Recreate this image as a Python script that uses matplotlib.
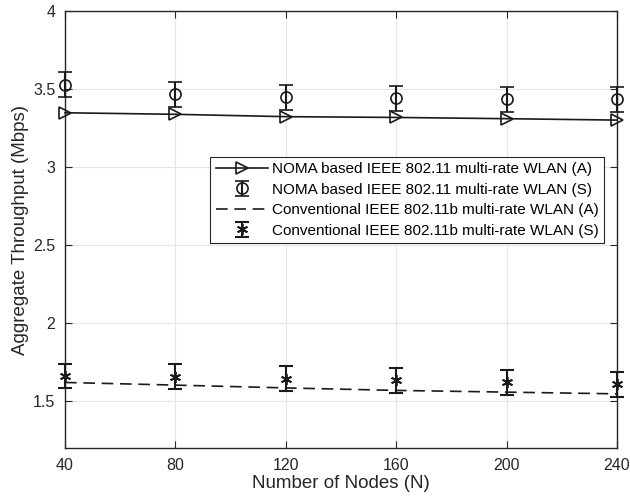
import numpy as np
import matplotlib.pyplot as plt
from matplotlib.lines import Line2D

plt.rcParams['font.family'] = ['Liberation Sans', 'DejaVu Sans']

# data
nodes = [40, 80, 120, 160, 200, 240]

noma_a = [3.348, 3.338, 3.323, 3.318, 3.310, 3.301]
noma_s = [3.527, 3.467, 3.447, 3.440, 3.436, 3.435]
noma_s_err = [0.080, 0.080, 0.081, 0.081, 0.080, 0.081]

conv_a = [1.620, 1.603, 1.585, 1.569, 1.558, 1.547]
conv_s = [1.661, 1.658, 1.645, 1.634, 1.621, 1.609]
conv_s_err = [0.076, 0.079, 0.081, 0.080, 0.080, 0.080]

labels = ['NOMA based IEEE 802.11 multi-rate WLAN (A)',
          'NOMA based IEEE 802.11 multi-rate WLAN (S)',
          'Conventional IEEE 802.11b multi-rate WLAN (A)',
          'Conventional IEEE 802.11b multi-rate WLAN (S)']

fig = plt.figure(figsize=(6.3, 5.03), dpi=100)
ax = fig.add_axes([65/630, 1 - 448/503, 552/630, 437/503])

k = '#1a1a1a'
h0, = ax.plot(nodes, noma_a, '-', color=k, lw=1.2, marker='>', ms=8,
              mfc='none', mew=1.2, zorder=3, clip_on=False)
h1 = ax.errorbar(nodes, noma_s, yerr=noma_s_err, fmt='o', color=k, ms=8,
                 mfc='none', mew=1.2, elinewidth=1.5, capsize=5, capthick=1.5,
                 zorder=3)
h2, = ax.plot(nodes, conv_a, '--', color=k, lw=1.2, dashes=(7, 4), zorder=3)
h3 = ax.errorbar(nodes, conv_s, yerr=conv_s_err, fmt='none', color=k,
                 elinewidth=1.5, capsize=5, capthick=1.5, zorder=3)
ax.plot(nodes, conv_s, ls='none', marker=(6, 2, 0), ms=8, mew=1.3,
        color=k, zorder=4, clip_on=False)
for cont in (h1, h3):
    for art in cont.get_children():
        art.set_clip_on(False)

ax.set_xlim(40, 240)
ax.set_ylim(1.2, 4)
ax.set_xticks(nodes)
ax.set_yticks([1.5, 2, 2.5, 3, 3.5, 4])
ax.set_yticklabels(['1.5', '2', '2.5', '3', '3.5', '4'])
ax.grid(True, color='#e6e6e6', lw=0.8)
ax.set_axisbelow(True)
ax.tick_params(direction='in', top=True, right=True, length=5,
               labelsize=11.5, colors='#262626', pad=7)
for s in ax.spines.values():
    s.set_color('#262626')
    s.set_linewidth(1.0)

ax.set_xlabel('Number of Nodes (N)', fontsize=13.5, color='#262626', labelpad=2)
ax.set_ylabel('Aggregate Throughput (Mbps)', fontsize=13.5, color='#262626', labelpad=3)

star = Line2D([], [], ls='none', marker=(6, 2, 0), ms=8, mew=1.3, color=k)
hs = [h0, h1, h2, (h3, star)]
leg = ax.legend(hs, labels, loc='upper right', bbox_to_anchor=(0.977, 0.666),
                fontsize=11, frameon=True, fancybox=False, edgecolor='#262626',
                framealpha=1, handlelength=3.4, handletextpad=0.3,
                borderpad=0.35, labelspacing=0.42, borderaxespad=0)
leg.get_frame().set_linewidth(0.8)

fig.savefig('out.png', dpi=100)
